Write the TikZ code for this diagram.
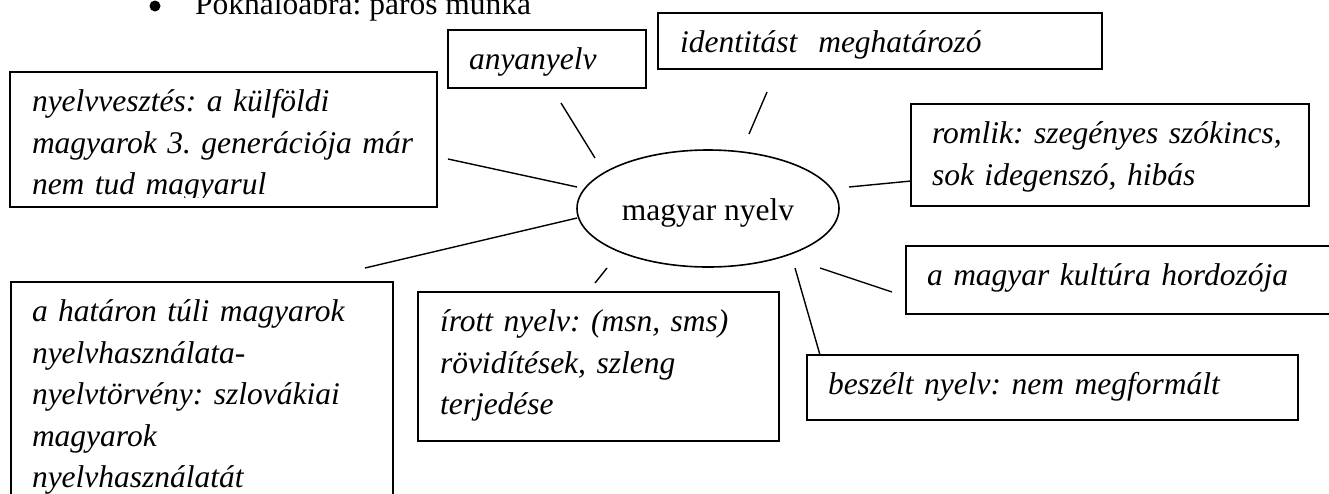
\documentclass[tikz,border=0pt]{standalone}
\usepackage{fontspec}
\setmainfont{Liberation Serif}
\usetikzlibrary{shapes.geometric}
\frenchspacing
\begin{document}
\begin{tikzpicture}[x=1pt,y=-1pt,
  box/.style={draw, line width=1.6pt, rectangle, inner sep=0pt, outer sep=0pt, anchor=north west},
  txt/.style={font=\fontsize{31.5}{41.5}\selectfont\itshape\frenchspacing, anchor=base west, inner sep=0pt, outer sep=0pt, text width=470pt, align=left},
  conn/.style={line width=1.4pt}]
\clip (0,0) rectangle (1329,493);

% heading
\node[circle, fill=black, inner sep=0pt, minimum size=11pt] (bul) at (155,6) {};
\node[font=\fontsize{31.5}{38}\selectfont, anchor=base west, inner sep=0pt] (title) at (195,14) {Pókhálóábra: páros munka};

% centre
\node[ellipse, draw, line width=1.6pt, minimum width=262pt, minimum height=117pt, inner sep=0pt, outer sep=0pt,
      text height=25.5pt, text depth=2.5pt, font=\fontsize{31.5}{38}\selectfont] (mn) at (708,208.5) {magyar nyelv};

% boxes
\node[box, minimum width=198pt, minimum height=58pt] (b1) at (448,30) {};
\node[box, minimum width=444pt, minimum height=56pt] (b2) at (658,13) {};
\node[box, minimum width=427pt, minimum height=135pt] (b3) at (10,72) {};
\node[box, minimum width=398pt, minimum height=102pt] (b4) at (911,104) {};
\node[box, minimum width=440pt, minimum height=68pt] (b5) at (906,246) {};
\node[box, minimum width=491pt, minimum height=65pt] (b6) at (807,355) {};
\node[box, minimum width=361pt, minimum height=149pt] (b7) at (418,292) {};
\node[box, minimum width=382pt, minimum height=250pt] (b8) at (11,282) {};

% texts
\node[txt] (t1) at (469,69.5) {anyanyelv};
\node[txt] (t2) at (680,52.5) {identitást\ \ meghatározó};
\begin{scope}
\clip (10,72) rectangle (437,197);
\node[txt] (t3) at (32,111.5) {nyelvvesztés: a külföldi\\magyarok 3. generációja már\\nem tud magyarul};
\end{scope}
\node[txt] (t4) at (932,143.5) {romlik: szegényes szókincs,\\sok idegenszó, hibás};
\node[txt] (t5) at (927,285.5) {a magyar kultúra hordozója};
\node[txt] (t6) at (828,394.5) {beszélt nyelv: nem megformált};
\node[txt] (t7) at (440,331.5) {írott nyelv: (msn, sms)\\rövidítések, szleng\\terjedése};
\node[txt] (t8) at (32,321.5) {a határon túli magyarok\\nyelvhasználata-\\nyelvtörvény: szlovákiai\\magyarok\\nyelvhasználatát};

% connectors (free strokes between the boxes and the ellipse)
\coordinate (c1a) at (561,103); \coordinate (c1b) at (595,158);
\coordinate (c2a) at (767,92);  \coordinate (c2b) at (749,134);
\coordinate (c3a) at (448,159); \coordinate (c3b) at (577,187);
\coordinate (c4a) at (849,187); \coordinate (c4b) at (911,181);
\coordinate (c5a) at (365,268); \coordinate (c5b) at (577,218);
\coordinate (c6a) at (607,268); \coordinate (c6b) at (595,283);
\coordinate (c7a) at (795,268); \coordinate (c7b) at (820,355);
\coordinate (c8a) at (820,268); \coordinate (c8b) at (892,292);
\draw[conn] (c1a) -- (c1b);
\draw[conn] (c2a) -- (c2b);
\draw[conn] (c3a) -- (c3b);
\draw[conn] (c4a) -- (c4b);
\draw[conn] (c5a) -- (c5b);
\draw[conn] (c6a) -- (c6b);
\draw[conn] (c7a) -- (c7b);
\draw[conn] (c8a) -- (c8b);
\end{tikzpicture}
\end{document}
